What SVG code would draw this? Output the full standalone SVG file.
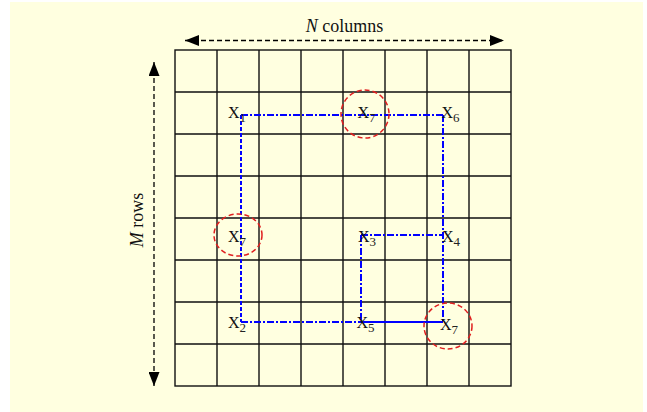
<svg xmlns="http://www.w3.org/2000/svg" width="647" height="412" viewBox="0 0 647 412">
<style>
.grid{stroke:#111;stroke-width:1.4;fill:none}
.dim{stroke:#000;stroke-width:1.3;stroke-dasharray:5,3;fill:none}
.bl{stroke:#0000FF;stroke-width:2;fill:none}
.dd{stroke-dasharray:7,2,2,2}
.ds{stroke-dasharray:4,2}
.circ{stroke:#E02020;stroke-width:1.5;stroke-dasharray:5,3;fill:none}
text{font-family:"Liberation Serif","Times New Roman",serif;fill:#111}
.lbl{font-size:16px}
.sub{font-size:13px;fill:#222}
.ttl{font-size:18px}
</style>
<defs>
<marker id="ah" viewBox="0 0 14 11" refX="14" refY="5.5" markerWidth="14" markerHeight="11" markerUnits="userSpaceOnUse" orient="auto-start-reverse">
<path d="M0,0 L14,5.5 L0,11 Z" fill="#000"/>
</marker>
</defs>
<rect x="10" y="2" width="633" height="410" fill="#FFFFE0"/>
<g id="grid">
<rect class="grid" x="175" y="50" width="336" height="336"/>
<path class="grid" d="M217,50V386M259,50V386M301,50V386M343,50V386M385,50V386M427,50V386M469,50V386M175,92H511M175,134H511M175,176H511M175,218H511M175,260H511M175,302H511M175,344H511"/>
</g>
<g id="dimensions">
<line class="dim" x1="185" y1="40.5" x2="504" y2="40.5" marker-start="url(#ah)" marker-end="url(#ah)"/>
<text class="ttl" x="344.5" y="32" text-anchor="middle"><tspan font-style="italic">N</tspan> columns</text>
<line class="dim" x1="154" y1="62" x2="154" y2="386" marker-start="url(#ah)" marker-end="url(#ah)"/>
<text class="ttl" transform="translate(143,220) rotate(-90)" text-anchor="middle"><tspan font-style="italic">M</tspan> rows</text>
</g>
<g id="connectors">
<line class="bl dd" x1="241" y1="115" x2="443" y2="115"/>
<line class="bl ds" x1="241" y1="115" x2="241" y2="322"/>
<line class="bl dd" x1="241" y1="322" x2="361" y2="322"/>
<line class="bl" x1="361" y1="322" x2="443" y2="322"/>
<line class="bl dd" x1="443" y1="115" x2="443" y2="322"/>
<line class="bl dd" x1="361" y1="235" x2="443" y2="235"/>
<line class="bl dd" x1="361" y1="235" x2="361" y2="322"/>
</g>
<g id="circles">
<ellipse class="circ" cx="365" cy="114" rx="24" ry="24"/>
<ellipse class="circ" cx="238" cy="235" rx="24" ry="21"/>
<ellipse class="circ" cx="448" cy="326" rx="24" ry="23"/>
</g>
<g id="X1"><text class="lbl" x="228" y="118">X<tspan class="sub" dy="4">1</tspan></text></g>
<g id="X7a"><text class="lbl" x="357.5" y="118">X<tspan class="sub" dy="4">7</tspan></text></g>
<g id="X6"><text class="lbl" x="441.5" y="118">X<tspan class="sub" dy="4">6</tspan></text></g>
<g id="X7b"><text class="lbl" x="228" y="242">X<tspan class="sub" dy="4">7</tspan></text></g>
<g id="X3"><text class="lbl" x="358" y="242">X<tspan class="sub" dy="4">3</tspan></text></g>
<g id="X4"><text class="lbl" x="442" y="242">X<tspan class="sub" dy="4">4</tspan></text></g>
<g id="X2"><text class="lbl" x="228" y="328">X<tspan class="sub" dy="4">2</tspan></text></g>
<g id="X5"><text class="lbl" x="356.5" y="328">X<tspan class="sub" dy="4">5</tspan></text></g>
<g id="X7c"><text class="lbl" x="440" y="330">X<tspan class="sub" dy="4">7</tspan></text></g>
</svg>
